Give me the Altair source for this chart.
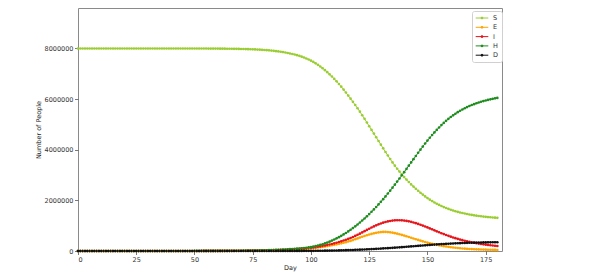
import altair as alt
import pandas as pd

# values in thousands of people, one per day (day 0 .. 180)
days = list(range(0, 181))

S = [
    8000, 8000, 8000, 8000, 8000, 8000, 8000, 8000, 8000, 8000,
    8000, 8000, 8000, 8000, 8000, 8000, 8000, 8000, 8000, 8000,
    8000, 8000, 8000, 8000, 8000, 8000, 8000, 8000, 8000, 8000,
    7999, 7999, 7999, 7999, 7999, 7999, 7999, 7999, 7999, 7999,
    7999, 7999, 7999, 7999, 7999, 7999, 7999, 7999, 7999, 7999,
    7998, 7998, 7998, 7998, 7998, 7998, 7997, 7997, 7997, 7997,
    7996, 7995, 7994, 7993, 7992, 7991, 7990, 7988, 7986, 7984,
    7982, 7980, 7977, 7974, 7971, 7967, 7963, 7958, 7953, 7947,
    7941, 7934, 7926, 7917, 7907, 7896, 7885, 7872, 7857, 7841,
    7822, 7804, 7784, 7762, 7738, 7710, 7679, 7644, 7606, 7564,
    7520, 7470, 7415, 7355, 7290, 7220, 7145, 7065, 6980, 6892,
    6800, 6702, 6599, 6491, 6378, 6260, 6140, 6018, 5894, 5768,
    5640, 5504, 5364, 5221, 5076, 4930, 4784, 4638, 4492, 4346,
    4200, 4055, 3912, 3772, 3635, 3500, 3372, 3251, 3136, 3026,
    2920, 2820, 2724, 2632, 2544, 2460, 2380, 2303, 2229, 2158,
    2090, 2028, 1971, 1918, 1868, 1820, 1776, 1736, 1699, 1664,
    1630, 1599, 1571, 1545, 1521, 1500, 1480, 1461, 1443, 1426,
    1410, 1396, 1383, 1371, 1360, 1350, 1341, 1333, 1325, 1317,
    1310,
]

E = [
    0.02, 0.03, 0.03, 0.03, 0.03, 0.03, 0.03, 0.03, 0.04, 0.04,
    0.05, 0.05, 0.06, 0.06, 0.07, 0.08, 0.08, 0.09, 0.09, 0.10,
    0.11, 0.12, 0.13, 0.14, 0.15, 0.17, 0.19, 0.20, 0.22, 0.24,
    0.26, 0.29, 0.31, 0.34, 0.37, 0.41, 0.44, 0.48, 0.52, 0.57,
    0.62, 0.68, 0.74, 0.80, 0.88, 0.95, 1.04, 1.13, 1.23, 1.34,
    1.47, 1.60, 1.74, 1.90, 2.07, 2.26, 2.47, 2.69, 2.92, 3.19,
    3.5, 3.8, 4.2, 4.5, 4.9, 5.4, 5.9, 6.4, 7.0, 7.6,
    8.2, 9.0, 9.8, 10.6, 11.6, 12.7, 13.9, 15.0, 16.4, 17.9,
    19.6, 21.3, 23.2, 25.3, 27.5, 30.1, 32.7, 35.7, 38.9, 42.4,
    46.2, 50.4, 54.9, 59.8, 65.3, 71.1, 77.5, 84.5, 92, 100,
    109, 118, 128, 139, 151, 164, 178, 193, 209, 226,
    244, 263, 283, 304, 326, 349, 374, 400, 432, 465,
    498, 531, 563, 594, 623, 650, 676, 699, 718, 734,
    746, 755, 754, 748, 738, 724, 706, 685, 662, 637,
    610, 582, 553, 524, 495, 466, 437, 409, 382, 356,
    331, 307, 285, 264, 244, 225, 208, 192, 177, 163,
    150, 138, 127, 117, 108, 100, 93, 86, 80, 75,
    70, 66, 62, 58, 55, 52, 49, 46, 44, 42,
    40,
]

I = [
    0.02, 0.03, 0.03, 0.03, 0.03, 0.04, 0.04, 0.04, 0.05, 0.05,
    0.06, 0.06, 0.07, 0.07, 0.08, 0.09, 0.09, 0.10, 0.11, 0.12,
    0.13, 0.14, 0.15, 0.17, 0.18, 0.20, 0.22, 0.24, 0.26, 0.28,
    0.31, 0.34, 0.37, 0.40, 0.44, 0.48, 0.52, 0.56, 0.61, 0.67,
    0.73, 0.80, 0.87, 0.94, 1.03, 1.12, 1.22, 1.33, 1.45, 1.58,
    1.73, 1.88, 2.05, 2.24, 2.44, 2.66, 2.90, 3.16, 3.44, 3.75,
    4.1, 4.5, 4.9, 5.3, 5.8, 6.3, 6.9, 7.5, 8.2, 8.9,
    9.7, 10.6, 11.5, 12.5, 13.7, 14.9, 16.3, 17.7, 19.3, 21.1,
    23.0, 25.1, 27.3, 29.8, 32.4, 35.4, 38.5, 42.0, 45.8, 49.9,
    54.4, 59.3, 64.6, 70.4, 76.8, 83.7, 91.2, 99.4, 108, 118,
    129, 141, 153, 167, 182, 198, 216, 235, 256, 278,
    302, 327, 354, 383, 413, 445, 479, 514, 553, 595,
    640, 686, 734, 783, 832, 880, 927, 972, 1014, 1053,
    1088, 1119, 1146, 1169, 1187, 1201, 1211, 1216, 1216, 1211,
    1202, 1189, 1172, 1151, 1127, 1100, 1070, 1038, 1004, 968,
    931, 893, 855, 816, 778, 740, 703, 667, 632, 598,
    566, 535, 506, 478, 452, 427, 404, 382, 362, 343,
    325, 308, 292, 277, 263, 250, 238, 227, 216, 206,
    197,
]

H = [
    0, 0, 0, 0, 0, 0, 0, 0, 0.1, 0.1,
    0.1, 0.1, 0.1, 0.1, 0.1, 0.1, 0.1, 0.1, 0.1, 0.2,
    0.2, 0.2, 0.2, 0.2, 0.2, 0.3, 0.3, 0.3, 0.3, 0.4,
    0.4, 0.4, 0.5, 0.5, 0.5, 0.6, 0.6, 0.7, 0.7, 0.8,
    0.9, 1.0, 1.1, 1.2, 1.2, 1.4, 1.5, 1.6, 1.8, 1.9,
    2.1, 2.3, 2.5, 2.7, 2.9, 3.2, 3.5, 3.8, 4.2, 4.5,
    4.9, 5.4, 5.9, 6.4, 7.0, 7.6, 8.3, 9.0, 9.8, 10.7,
    11.7, 12.7, 13.9, 15.1, 16.5, 18.0, 19.6, 21.4, 23.3, 25.4,
    27.7, 30.2, 32.9, 35.8, 39.0, 42.6, 46.4, 50.6, 55.1, 60.1,
    65.5, 71.4, 77.8, 84.8, 92.4, 100.7, 109.8, 119.7, 130.4, 142.2,
    155, 173, 193, 215, 240, 268, 299, 333, 370, 410,
    453, 499, 548, 600, 655, 713, 774, 838, 905, 975,
    1048, 1124, 1203, 1285, 1370, 1458, 1549, 1643, 1740, 1840,
    1943, 2049, 2158, 2270, 2385, 2502, 2621, 2742, 2865, 2990,
    3116, 3243, 3371, 3499, 3627, 3754, 3880, 4004, 4126, 4245,
    4361, 4473, 4581, 4685, 4785, 4881, 4973, 5061, 5143, 5220,
    5292, 5360, 5424, 5484, 5540, 5592, 5640, 5685, 5727, 5766,
    5802, 5835, 5866, 5895, 5922, 5947, 5970, 5991, 6011, 6030,
    6048,
]

D = [
    0, 0, 0, 0, 0, 0, 0, 0, 0, 0,
    0, 0, 0, 0, 0, 0, 0, 0, 0, 0,
    0, 0, 0, 0, 0, 0, 0, 0, 0, 0,
    0, 0, 0, 0, 0, 0, 0, 0, 0, 0,
    0, 0, 0, 0, 0, 0, 0, 0, 0, 0,
    0.1, 0.1, 0.1, 0.1, 0.1, 0.1, 0.1, 0.1, 0.1, 0.1,
    0.2, 0.3, 0.3, 0.3, 0.3, 0.4, 0.4, 0.4, 0.5, 0.5,
    0.5, 0.6, 0.6, 0.7, 0.7, 0.8, 0.9, 0.9, 1.0, 1.1,
    1.2, 1.3, 1.4, 1.6, 1.7, 1.9, 2.1, 2.2, 2.5, 2.7,
    2.9, 3.2, 3.5, 3.8, 4.1, 4.5, 4.9, 5.4, 5.9, 6.4,
    6.9, 7.6, 8.2, 9.0, 10.0, 11.2, 12.5, 13.9, 15.5, 17.3,
    19.3, 21.5, 23.8, 26.3, 28.9, 31.8, 34.8, 38.0, 41.4, 44.9,
    48.6, 52.5, 56.6, 60.8, 65.2, 69.8, 74.5, 79.5, 84.6, 89.8,
    95.3, 100.9, 106.7, 112.7, 118.8, 125.2, 131.7, 138.3, 145.1, 152.0,
    159.0, 166.2, 173.4, 180.7, 188.1, 195.5, 202.9, 210.4, 217.7, 225.0,
    232.2, 239.3, 246.2, 252.9, 259.4, 265.7, 271.7, 277.5, 283.1, 288.4,
    293.5, 298.3, 302.8, 307.0, 310.9, 314.6, 318.1, 321.3, 324.3, 327.1,
    329.7, 332.2, 334.4, 336.5, 338.4, 340.2, 341.9, 343.5, 345.0, 346.3,
    347.7,
]

series_names = ["S", "E", "I", "H", "D"]
series_colors = ["#9acd32", "#ffa500", "#e8141a", "#1e8c1e", "#111111"]
x_ticks = [0, 25, 50, 75, 100, 125, 150, 175]
y_ticks = [0, 2000000, 4000000, 6000000, 8000000]

rows = []
for name, vals in zip(series_names, [S, E, I, H, D]):
    for k, (d, v) in enumerate(zip(days, vals)):
        rows.append({"day": d, "people": v * 1000, "series": name,
                     "order": series_names.index(name)})
df = pd.DataFrame(rows)

legend_path = "M-1.8,0H1.8M-0.28,0A0.28,0.28,0,1,1,0.28,0A0.28,0.28,0,1,1,-0.28,0Z"

chart = alt.Chart(df).mark_line(
    strokeWidth=1,
    point=alt.OverlayMarkDef(filled=True, size=7, opacity=1),
).encode(
    x=alt.X("day:Q",
            scale=alt.Scale(domain=[0, 182], nice=False, zero=False),
            axis=alt.Axis(values=x_ticks, title="Day", format="d")),
    y=alt.Y("people:Q",
            scale=alt.Scale(domain=[0, 9600000], nice=False),
            axis=alt.Axis(values=y_ticks, title="Number of People", format="d")),
    color=alt.Color("series:N",
                    scale=alt.Scale(domain=series_names, range=series_colors),
                    legend=alt.Legend(
                        title=None, orient="none", legendX=394, legendY=3,
                        symbolType=legend_path, symbolSize=49,
                        symbolStrokeWidth=1, symbolOffset=3,
                        labelFontSize=6.5, labelFont="DejaVu Sans",
                        labelColor="#333", labelOffset=7,
                        padding=3, rowPadding=1.3,
                        strokeColor="#d0d0d0", fillColor="white",
                        cornerRadius=2)),
    order=alt.Order("day:Q"),
).properties(
    width=424, height=243,
    autosize=alt.AutoSizeParams(type="none"),
    padding={"left": 78, "top": 8, "right": 112, "bottom": 22},
).configure_view(
    stroke="#8a8a8a", strokeWidth=1,
).configure_axis(
    domain=False, grid=False,
    labelFont="DejaVu Sans", labelFontSize=6.5, labelColor="#333",
    tickColor="#555", tickSize=3.5, tickWidth=0.8,
    titleFont="DejaVu Sans", titleFontSize=6.5, titleFontWeight="normal",
    titleColor="#222",
).configure_axisX(
    labelPadding=1.5, titlePadding=2,
).configure_axisY(
    labelPadding=1.5, titlePadding=3,
)

chart.save("out.html", embed_options={"renderer": "svg", "actions": False})
